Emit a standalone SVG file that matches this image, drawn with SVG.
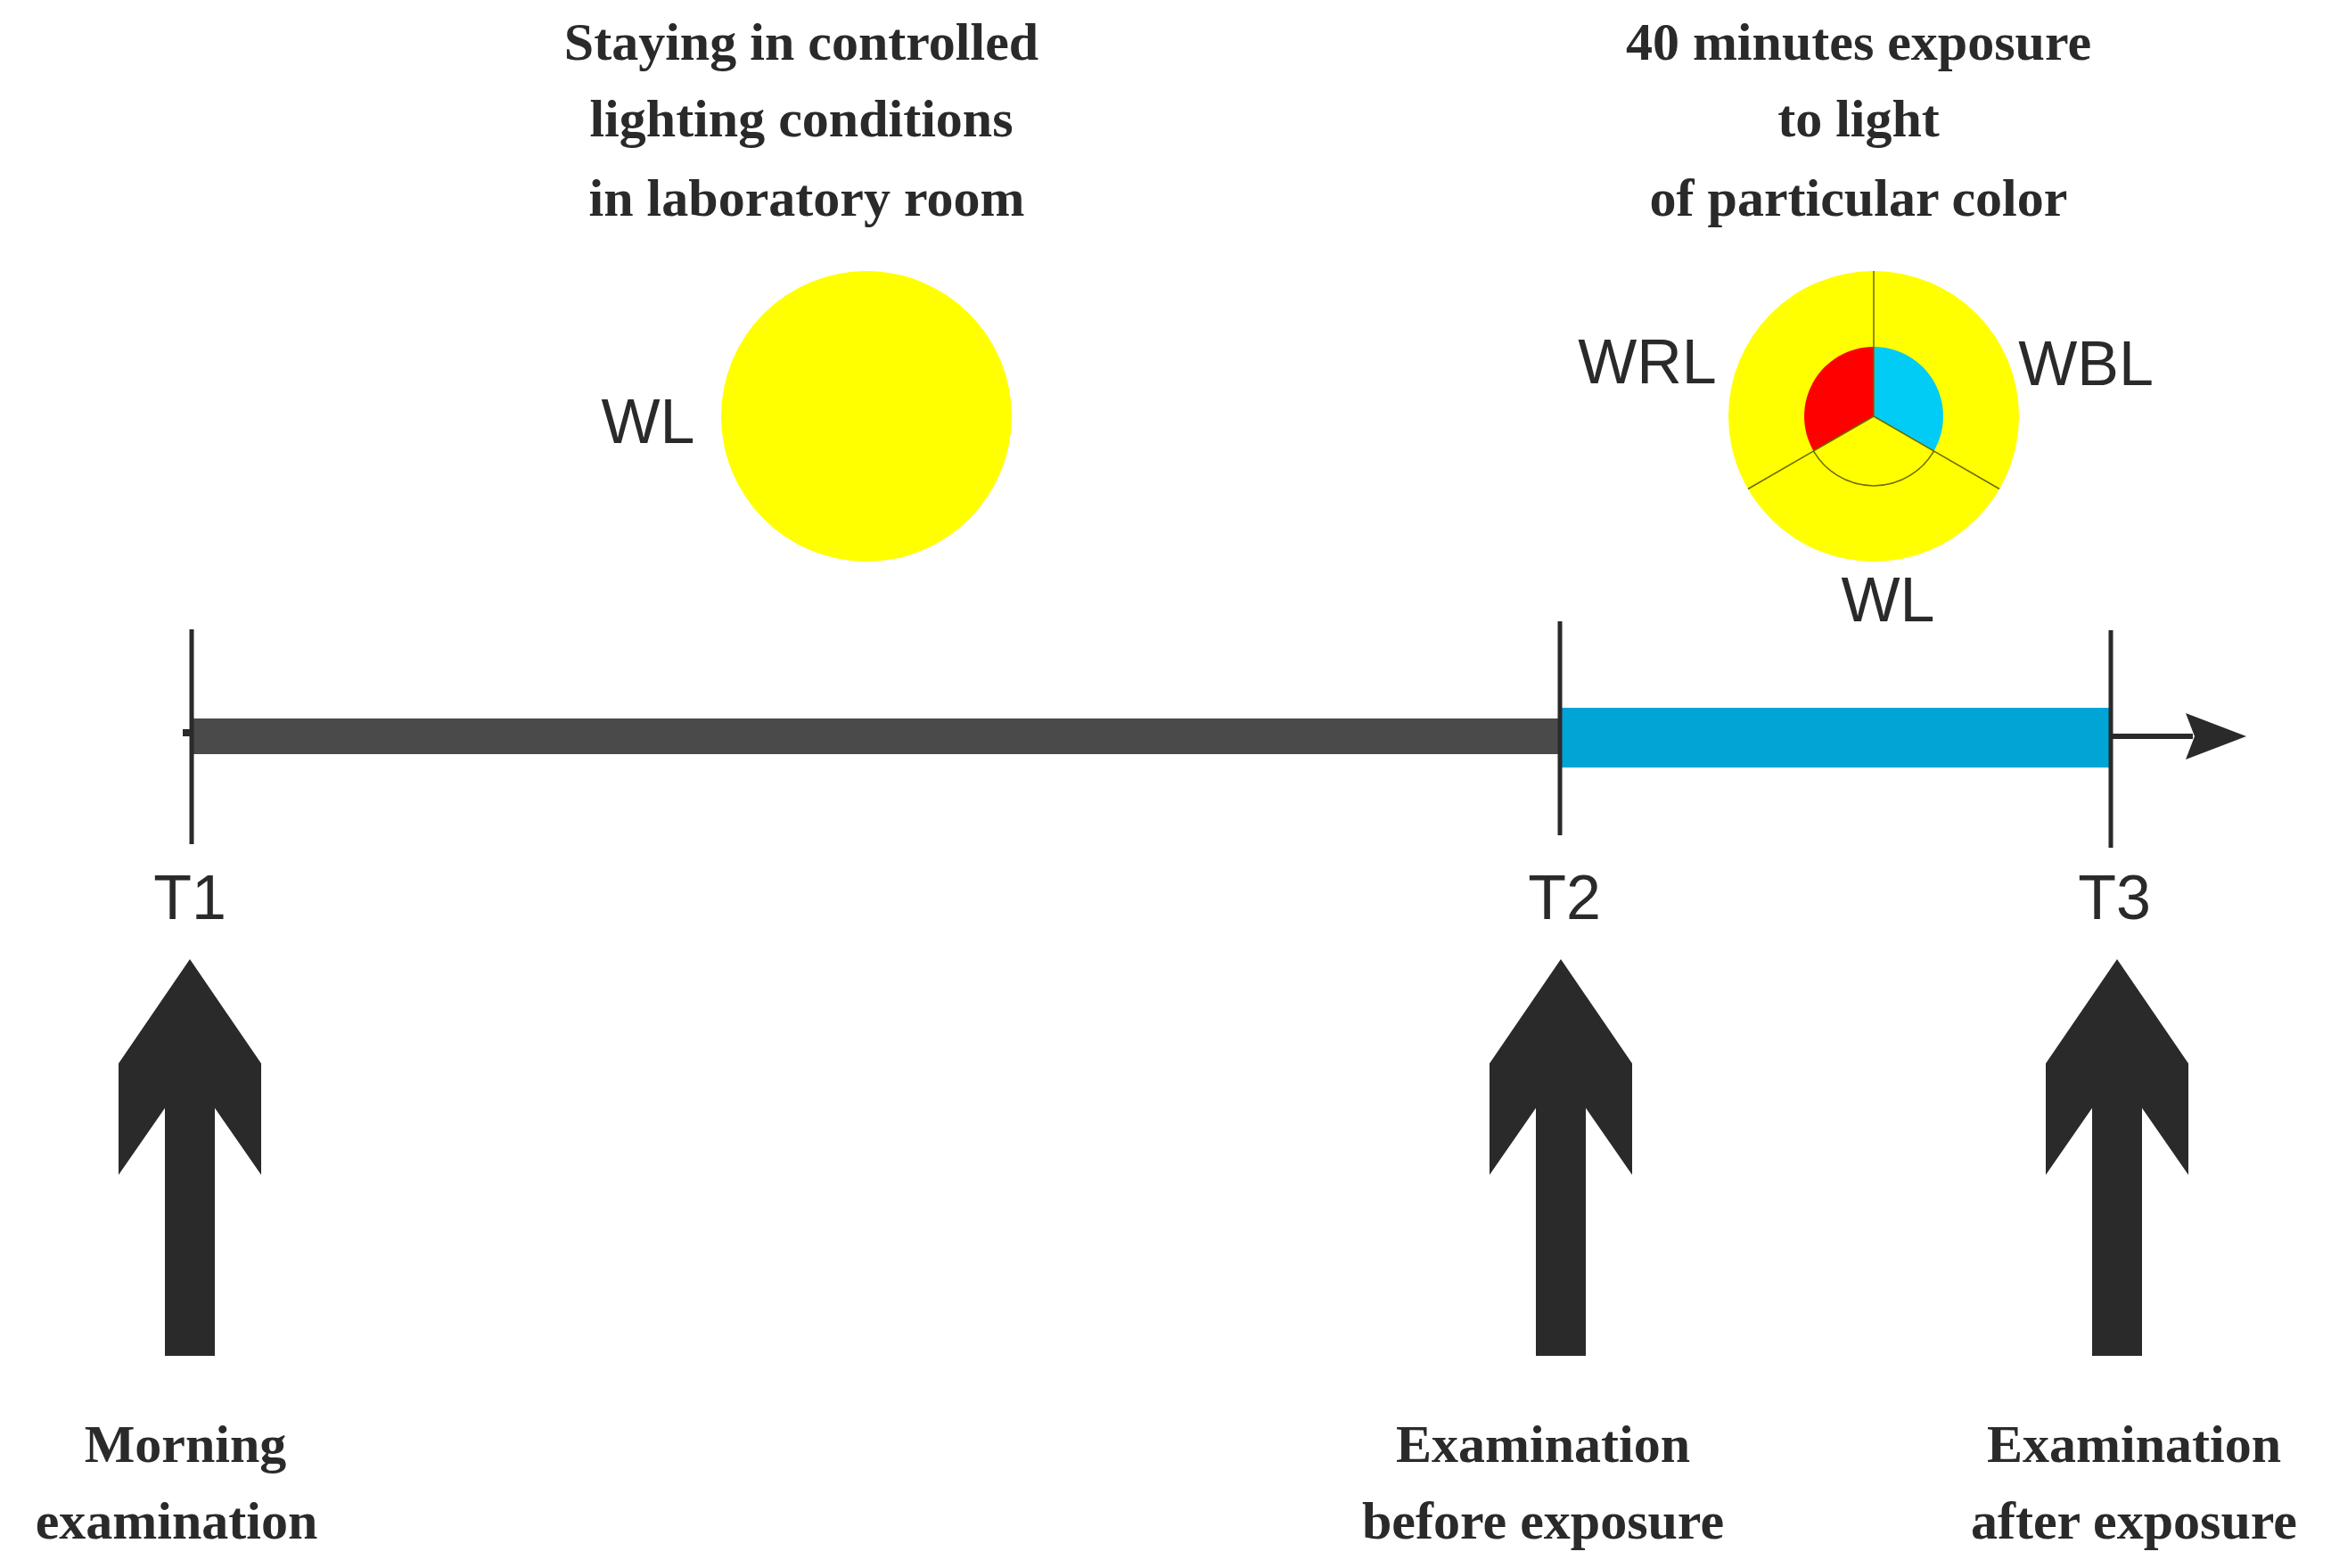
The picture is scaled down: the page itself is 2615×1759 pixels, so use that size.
<svg xmlns="http://www.w3.org/2000/svg" width="2615" height="1759" viewBox="0 0 2615 1759">
<style>
.t{font-family:"Liberation Serif",serif;font-weight:bold;font-size:60px;fill:#2a2a2a;text-anchor:middle}
.s{font-family:"Liberation Sans",Arial,sans-serif;font-size:70px;fill:#2a2a2a;text-anchor:middle}
.tick{stroke:#2a2a2a;stroke-width:5}
.big{fill:#2a2a2a}
</style>
<rect width="2615" height="1759" fill="#fff"/>
<g id="top-left-label"><text class="t" x="899" y="67">Staying in controlled</text><text class="t" x="899" y="153">lighting conditions</text><text class="t" x="905" y="242">in laboratory room</text></g>
<g id="top-right-label"><text class="t" x="2085" y="67">40 minutes exposure</text><text class="t" x="2085" y="153">to light</text><text class="t" x="2085" y="242">of particular color</text></g>
<g id="wl-circle"><circle cx="972" cy="467" r="163" fill="#ffff00"/><text class="s" x="727" y="497">WL</text></g>
<g id="color-circle">
<circle cx="2102" cy="467" r="163" fill="#ffff00"/>
<path d="M2102 467 L2102 389 A78 78 0 0 0 2034.5 506 Z" fill="#ff0000"/>
<path d="M2102 467 L2102 389 A78 78 0 0 1 2169.5 506 Z" fill="#00ccf5"/>
<path d="M2034.5 506 A78 78 0 0 0 2169.5 506" fill="none" stroke="#6b6b00" stroke-width="1.5"/>
<path d="M2102 304 L2102 467 M2102 467 L1961 548.5 M2102 467 L2243 548.5" stroke="#6b6b00" stroke-width="1.5" fill="none"/>
<text class="s" x="1848" y="430">WRL</text><text class="s" x="2340" y="432">WBL</text><text class="s" x="2118" y="697">WL</text>
</g>
<g id="timeline">
<rect x="215" y="806" width="1535" height="40" fill="#4a4a4a"/>
<rect x="205" y="818" width="12" height="8" fill="#2a2a2a"/>
<rect x="1750" y="794" width="618" height="67" fill="#00a5d6"/>
<line class="tick" x1="215" y1="706" x2="215" y2="947"/>
<line class="tick" x1="1750" y1="697" x2="1750" y2="937"/>
<line class="tick" x1="2368" y1="707" x2="2368" y2="951"/>
</g>
<g id="connectors">
<line x1="2368" y1="826" x2="2460" y2="826" stroke="#2a2a2a" stroke-width="6"/>
<polygon points="2452,800 2520,826 2452,852 2462,826" fill="#2a2a2a"/>
</g>
<g id="labels-T"><text class="s" x="213" y="1031">T1</text><text class="s" x="1755" y="1031">T2</text><text class="s" x="2372" y="1031">T3</text></g>
<g id="arrow-T1"><polygon class="big" points="213,1076 293,1193 293,1318 241,1243 241,1521 185,1521 185,1243 133,1318 133,1193"/></g>
<g id="arrow-T2"><polygon class="big" points="1751,1076 1831,1193 1831,1318 1779,1243 1779,1521 1723,1521 1723,1243 1671,1318 1671,1193"/></g>
<g id="arrow-T3"><polygon class="big" points="2375,1076 2455,1193 2455,1318 2403,1243 2403,1521 2347,1521 2347,1243 2295,1318 2295,1193"/></g>
<g id="label-T1"><text class="t" x="208" y="1640">Morning</text><text class="t" x="198" y="1726">examination</text></g>
<g id="label-T2"><text class="t" x="1731" y="1640">Examination</text><text class="t" x="1731" y="1726">before exposure</text></g>
<g id="label-T3"><text class="t" x="2394" y="1640">Examination</text><text class="t" x="2394" y="1726">after exposure</text></g>
</svg>
